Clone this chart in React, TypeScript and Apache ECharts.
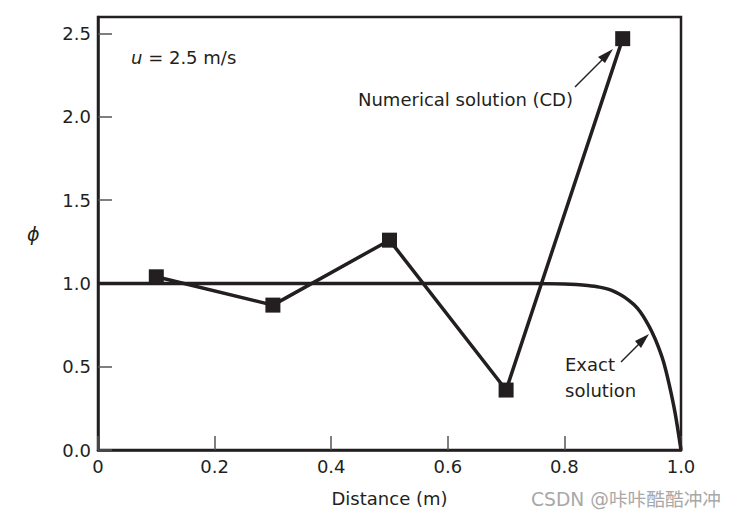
import React, { useEffect, useRef } from "react";
import * as echarts from "echarts";

const numericalX = [0.1, 0.3, 0.5, 0.7, 0.9];
const numericalY = [1.04, 0.87, 1.26, 0.36, 2.47];

const exactX = [0, 0.1, 0.2, 0.3, 0.4, 0.5, 0.6, 0.7, 0.75, 0.8, 0.82, 0.84, 0.86, 0.88, 0.9, 0.91, 0.92, 0.93, 0.94, 0.95, 0.96, 0.97, 0.98, 0.99, 1.0];
const exactY = [1, 1, 1, 1, 1, 1, 1, 1, 1, 0.997, 0.994, 0.988, 0.978, 0.96, 0.925, 0.9, 0.87, 0.83, 0.775, 0.71, 0.63, 0.53, 0.39, 0.22, 0];

const xTicks = [0, 0.2, 0.4, 0.6, 0.8, 1.0];
const yTicks = [0, 0.5, 1.0, 1.5, 2.0, 2.5];

const INK = "#231f20";
const FONT = "'DejaVu Sans', 'Liberation Sans', sans-serif";

export default function App() {
  const ref = useRef<HTMLDivElement>(null);
  useEffect(() => {
    if (!ref.current) return;
    const chart = echarts.init(ref.current, undefined, { renderer: "svg" });
    const L = 98, T = 17, W = 583, H = 433;
    chart.setOption({
      animation: false,
      backgroundColor: "#ffffff",
      grid: { left: L, top: T, width: W, height: H, show: true, borderColor: INK, borderWidth: 2.5, backgroundColor: "transparent" },
      xAxis: {
        type: "value",
        min: 0,
        max: 1,
        interval: 0.2,
        name: "Distance (m)",
        nameLocation: "middle",
        nameGap: 39,
        nameTextStyle: { fontFamily: FONT, fontSize: 18, color: INK },
        axisLine: { show: true, lineStyle: { color: INK, width: 2.5 } },
        axisTick: { show: true, inside: true, length: 14, lineStyle: { color: "#555", width: 1.5 } },
        axisLabel: {
          margin: 7,
          fontFamily: FONT,
          fontSize: 18,
          color: INK,
          formatter: (v: number) => {
            const t = xTicks.find((x) => Math.abs(x - v) < 1e-6);
            if (t === undefined) return "";
            return t === 0 ? "0" : t.toFixed(1);
          },
        },
        splitLine: { show: false },
      },
      yAxis: {
        type: "value",
        min: 0,
        max: 2.6,
        interval: 0.5,
        axisLine: { show: true, lineStyle: { color: INK, width: 2.5 } },
        axisTick: { show: true, inside: true, length: 14, lineStyle: { color: "#555", width: 1.5 } },
        axisLabel: {
          margin: 7,
          fontFamily: FONT,
          fontSize: 18,
          color: INK,
          showMaxLabel: false,
          formatter: (v: number) => {
            const t = yTicks.find((y) => Math.abs(y - v) < 1e-6);
            return t === undefined ? "" : t.toFixed(1);
          },
        },
        splitLine: { show: false },
      },
      series: [
        {
          type: "line",
          data: exactX.map((x, i) => [x, exactY[i]]),
          showSymbol: false,
          symbol: "none",
          smooth: 0.3,
          lineStyle: { color: INK, width: 3.5 },
          z: 2,
        },
        {
          type: "line",
          data: numericalX.map((x, i) => [x, numericalY[i]]),
          symbol: "rect",
          symbolSize: 15,
          itemStyle: { color: INK },
          lineStyle: { color: INK, width: 3.5 },
          z: 3,
        },
      ],
      graphic: [
        {
          type: "text",
          left: 131,
          top: 48,
          style: {
            rich: {
              i: { fontFamily: FONT, fontSize: 18, fontStyle: "italic", fill: INK },
              n: { fontFamily: FONT, fontSize: 18, fill: INK },
            },
            text: "{i|u}{n| = 2.5 m/s}",
          },
        },
        {
          type: "text",
          left: 358,
          top: 90,
          style: { text: "Numerical solution (CD)", fontFamily: FONT, fontSize: 18, fill: INK },
        },
        {
          type: "text",
          left: 565,
          top: 351,
          style: { text: "Exact\nsolution", fontFamily: FONT, fontSize: 18, lineHeight: 26, fill: INK },
        },
        {
          type: "text",
          left: 27,
          top: 224,
          style: { text: "ϕ", fontFamily: FONT, fontSize: 19, fontStyle: "italic", fill: INK },
        },
        { type: "line", shape: { x1: 575, y1: 87, x2: 605, y2: 57 }, style: { stroke: INK, lineWidth: 1.5 } },
        { type: "polygon", shape: { points: [[613, 49], [598, 57], [605, 63]] }, style: { fill: INK } },
        { type: "line", shape: { x1: 621, y1: 362, x2: 642, y2: 341 }, style: { stroke: INK, lineWidth: 1.5 } },
        { type: "polygon", shape: { points: [[649, 334], [635, 341], [641, 348]] }, style: { fill: INK } },
        {
          type: "text",
          left: 531,
          top: 490,
          style: { text: "CSDN @咔咔酷酷冲冲", fontFamily: "'DejaVu Sans', 'Noto Sans CJK SC', sans-serif", fontSize: 18.7, fill: "#a8a8a8" },
        },
      ],
    });
    return () => chart.dispose();
  }, []);
  return <div ref={ref} style={{ width: 740, height: 519, margin: -8 }} />;
}
